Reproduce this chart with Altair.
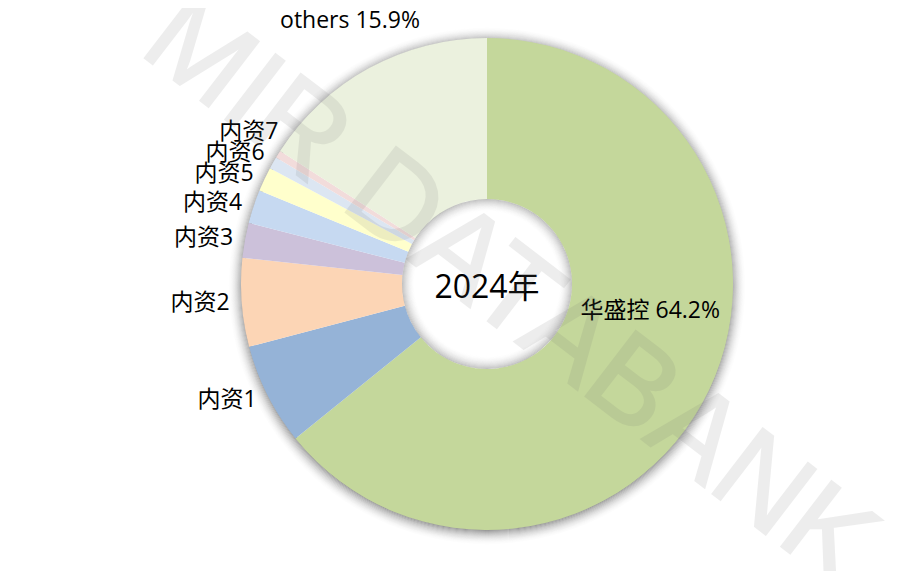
import math
import altair as alt
import pandas as pd

# ---------------- data ----------------
names = ["华盛控", "内资1", "内资2", "内资3", "内资4", "内资5", "内资6", "内资7", "others"]
shares = [64.2, 6.7, 5.8, 2.3, 2.2, 1.6, 0.8, 0.5, 15.9]
colors = ["#C4D79B", "#95B3D7", "#FCD5B5", "#CCC1DA", "#C6D9F1",
          "#FFFFCC", "#DCE6F2", "#F2DCDB", "#EBF1DE"]
show_pct = [True, False, False, False, False, False, False, False, True]
center_text = "2024年"
watermark = "MIR DATABANK"

# ---------------- layout / style ----------------
W, H = 700, 540
PAD = {"left": 129, "top": 6, "right": 65, "bottom": 17}
R_OUT, R_IN = 246, 85
R_LABEL = 258
MIN_GAP = 21
FONT = "Open Sans, Noto Sans CJK SC"
FS = 23

df = pd.DataFrame({"name": names, "share": shares, "color": colors, "pct": show_pct})
df["end"] = df["share"].cumsum()
df["start"] = df["end"] - df["share"]
df["mid"] = (df["start"] + df["end"]) / 2
df["label"] = [f"{n} {s:.1f}%" if p else n for n, s, p in zip(names, shares, show_pct)]

# spread crowded left-side labels vertically (Excel-like best fit)
left = df[(df["mid"] > 50) & (df["mid"] < 86)].copy()
ys = []
prev = None
for _, row in left.iterrows():
    th = row["mid"] / 100 * 2 * math.pi
    y = -R_LABEL * math.cos(th)
    if prev is not None and y > prev - MIN_GAP:
        y = prev - MIN_GAP
    ys.append(y)
    prev = y
left["lab_theta"] = [100 - math.degrees(math.acos(-y / R_LABEL)) / 360 * 100 for y in ys]

big = df.iloc[[0]].copy()
big["lab_theta"] = big["start"] + 0.43 * (big["end"] - big["start"])
top = df[df["name"] == "others"].copy()
top["lab_theta"] = top["mid"]

theta_scale = alt.Scale(domain=[0, 100], range=[0, 2 * math.pi])

# soft shadows (rings of fading grey)
N_OUT = 16
outer_sh = pd.DataFrame({
    "r1": [R_OUT - 3 + k for k in range(N_OUT)],
    "r2": [R_OUT - 2 + k for k in range(N_OUT)],
    "op": [0.66 * (1 - k / N_OUT) ** 2 for k in range(N_OUT)],
})
N_IN = 13
inner_sh = pd.DataFrame({
    "r1": [R_IN - k - 1 for k in range(N_IN)],
    "r2": [R_IN - k for k in range(N_IN)],
    "op": [0.36 * (1 - k / N_IN) ** 2 for k in range(N_IN)],
})

def rings(d, dy=0):
    return alt.Chart(d).mark_arc(theta=0, theta2=2 * math.pi, color="#555555").encode(
        x=alt.value(W / 2),
        y=alt.value(H / 2 + dy),
        radius=alt.Radius("r2:Q", scale=None),
        radius2="r1:Q",
        opacity=alt.Opacity("op:Q", scale=None),
    )

arcs = alt.Chart(df).mark_arc(outerRadius=R_OUT, innerRadius=R_IN, stroke=None).encode(
    theta=alt.Theta("start:Q", scale=theta_scale),
    theta2="end:Q",
    color=alt.Color("name:N", scale=alt.Scale(domain=names, range=colors), legend=None),
)

left_labels = alt.Chart(left).mark_text(
    align="right", baseline="middle", font=FONT, fontSize=FS, color="#000000"
).encode(
    theta=alt.Theta("lab_theta:Q", scale=theta_scale),
    radius=alt.value(R_LABEL),
    text="label:N",
)

top_label = alt.Chart(top).mark_text(
    align="center", baseline="bottom", font=FONT, fontSize=FS, color="#000000"
).encode(
    theta=alt.Theta("lab_theta:Q", scale=theta_scale),
    radius=alt.value(R_OUT + 40),
    text="label:N",
)

big_label = alt.Chart(big).mark_text(
    align="center", baseline="middle", font=FONT, fontSize=FS, color="#000000"
).encode(
    theta=alt.Theta("lab_theta:Q", scale=theta_scale),
    radius=alt.value((R_OUT + R_IN) / 2),
    text="label:N",
)

center = alt.Chart(pd.DataFrame({"t": [center_text]})).mark_text(
    align="center", baseline="middle", font=FONT, fontSize=32, color="#000000", dy=4
).encode(text="t:N")

wm = alt.Chart(pd.DataFrame({"t": [watermark]})).mark_text(
    align="center", baseline="middle", font="Liberation Sans", fontSize=120,
    angle=37.5, color="#707070", stroke="#707070", strokeWidth=2, opacity=0.12
).encode(x=alt.value(W / 2 + 22), y=alt.value(H / 2 + 8), text="t:N")

chart = alt.layer(
    rings(outer_sh, dy=2), arcs, rings(inner_sh), left_labels, top_label, big_label, center, wm
).properties(
    width=W, height=H, autosize=alt.AutoSizeParams(type="none"), padding=PAD
).configure_view(stroke=None)

chart.save("out.html", embed_options={"renderer": "svg", "actions": False})
